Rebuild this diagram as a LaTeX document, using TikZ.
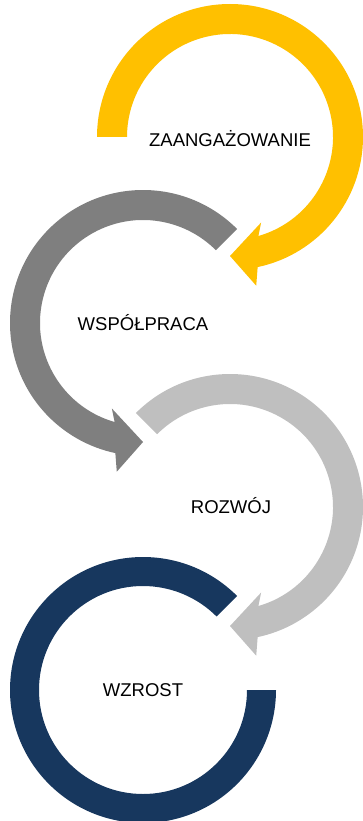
\documentclass[tikz,border=0pt]{standalone}
\usepackage{fontspec}
\setmainfont{Liberation Sans}
\usetikzlibrary{positioning}

\definecolor{ringyellow}{HTML}{FFC000}
\definecolor{ringgray}{HTML}{7F7F7F}
\definecolor{ringlight}{HTML}{BFBFBF}
\definecolor{ringnavy}{HTML}{17375E}

\begin{document}
\begin{tikzpicture}[x=1pt, y=1pt, lbl/.style={font=\fontsize{18.5}{22}\selectfont, text height=13.2pt, text depth=0pt, inner sep=0pt}]

\useasboundingbox (0,0) rectangle (362,-821);

% ring centres
\coordinate (cz) at (230,-137);
\coordinate (cw) at (143,-323);
\coordinate (cr) at (230,-507);
\coordinate (cg) at (143,-690);

% Top ring (yellow, clockwise)
\begin{scope}[shift={(cz)}]
\fill[ringyellow] (180:133) arc[start angle=180, end angle=-78, radius=133] -- (-80:151) -- (-90:119) -- (-70:91) -- (-74:103) arc[start angle=-74, end angle=180, radius=103] -- cycle;
\end{scope}

% Second ring (gray, counter-clockwise)
\begin{scope}[shift={(cw)}]
\fill[ringgray] (45:133) arc[start angle=45, end angle=258, radius=133] -- (260:151) -- (270:119) -- (250:91) -- (254:103) arc[start angle=254, end angle=45, radius=103] -- cycle;
\end{scope}

% Third ring (light gray, clockwise)
\begin{scope}[shift={(cr)}]
\fill[ringlight] (135:133) arc[start angle=135, end angle=-78, radius=133] -- (-80:151) -- (-90:119) -- (-70:91) -- (-74:103) arc[start angle=-74, end angle=135, radius=103] -- cycle;
\end{scope}

% Bottom ring (navy, no head)
\begin{scope}[shift={(cg)}]
\fill[ringnavy] (45:133) arc[start angle=45, end angle=360, radius=133] -- (0:104) arc[start angle=360, end angle=45, radius=104] -- cycle;
\end{scope}

% Labels
\node[lbl] (zaang) at ([yshift=-3]cz) {ZAANGAŻOWANIE};
\node[lbl] (wspol) at ([yshift=-1]cw) {WSPÓŁPRACA};
\node[lbl] (rozwoj) at ([xshift=1]cr) {ROZWÓJ};
\node[lbl] (wzrost) at (cg) {WZROST};

\end{tikzpicture}
\end{document}
